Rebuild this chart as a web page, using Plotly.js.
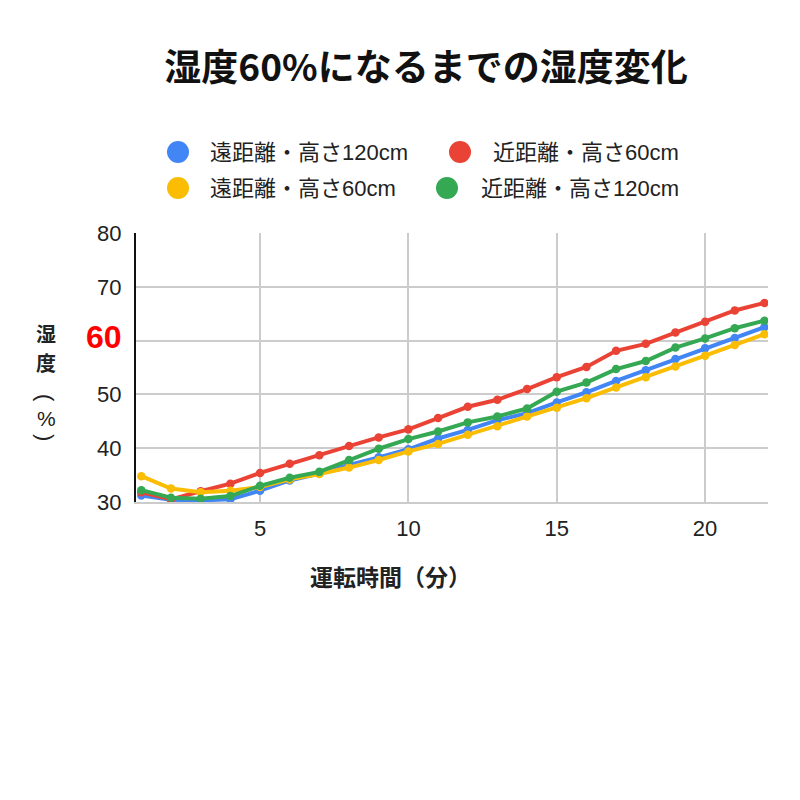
<!DOCTYPE html>
<html>
<head>
<meta charset="utf-8">
<script src="https://cdn.plot.ly/plotly-3.0.1.min.js"></script>
<style>
  html, body { margin: 0; padding: 0; background: #fff; }
  #chart { width: 800px; height: 800px; }
</style>
</head>
<body>
<div id="chart"></div>
<script>
// ---- Data ----
const minutes = [1, 2, 3, 4, 5, 6, 7, 8, 9, 10, 11, 12, 13, 14, 15, 16, 17, 18, 19, 20, 21, 22];

const seriesNames  = ['遠距離・高さ120cm', '近距離・高さ60cm', '遠距離・高さ60cm', '近距離・高さ120cm'];
const seriesColors = ['#4285F4', '#EA4335', '#FBBC04', '#34A853'];

const far120  = [31.2, 30.4, 30.3, 30.5, 32.1, 34.0, 35.3, 36.9, 38.3, 39.8, 41.8, 43.4, 45.2, 46.5, 48.5, 50.4, 52.5, 54.5, 56.6, 58.6, 60.5, 62.5];
const near60  = [31.8, 30.5, 32.0, 33.4, 35.4, 37.1, 38.7, 40.4, 42.0, 43.5, 45.6, 47.7, 49.0, 51.0, 53.2, 55.1, 58.1, 59.4, 61.5, 63.5, 65.6, 67.0];
const far60   = [34.8, 32.5, 31.8, 32.1, 32.8, 34.2, 35.2, 36.4, 37.8, 39.4, 40.8, 42.5, 44.1, 45.9, 47.5, 49.3, 51.3, 53.2, 55.2, 57.2, 59.2, 61.2];
const near120 = [32.2, 30.8, 30.6, 31.1, 33.0, 34.5, 35.6, 37.8, 39.9, 41.7, 43.1, 44.8, 45.9, 47.4, 50.5, 52.2, 54.7, 56.2, 58.7, 60.4, 62.3, 63.7];

const yTickVals = [30, 40, 50, 60, 70, 80];
const yTickText = ['30', '40', '50', '<span style="font-size:32px;color:#ff0000"><b>60</b></span>', '70', '80'];
const xTickVals = [5, 10, 15, 20];

const allSeries = [far120, near60, far60, near120];

// ---- Geometry helpers (plot area in pixels) ----
const PLOT = { left: 136, right: 768, top: 233, bottom: 502 };
const px = (x) => (x - PLOT.left) / (PLOT.right - PLOT.left);
const py = (y) => (PLOT.bottom - y) / (PLOT.bottom - PLOT.top);

const CJK  = '"Noto Sans CJK JP", "Noto Sans", sans-serif';
const SANS = '"Liberation Sans", Arial, "Noto Sans CJK JP", sans-serif';

const traces = allSeries.map((ys, i) => ({
  type: 'scatter',
  mode: 'lines+markers',
  x: minutes,
  y: ys,
  name: seriesNames[i],
  line:   { color: seriesColors[i], width: 4 },
  marker: { color: seriesColors[i], size: 8.5 },
  showlegend: false,
  hoverinfo: 'x+y+name',
}));

// ---- Hand-drawn legend: dots (shapes) + labels (annotations) ----
const legendItems = [
  { name: seriesNames[0], color: seriesColors[0], dot: 178, text: 208, anchor: 'left',  row: 152 },
  { name: seriesNames[1], color: seriesColors[1], dot: 460, text: 681, anchor: 'right', row: 152 },
  { name: seriesNames[2], color: seriesColors[2], dot: 178, text: 208, anchor: 'left',  row: 188 },
  { name: seriesNames[3], color: seriesColors[3], dot: 447, text: 681, anchor: 'right', row: 188 },
];

const shapes = legendItems.map(it => ({
  type: 'circle',
  xref: 'paper', yref: 'paper',
  xsizemode: 'pixel', ysizemode: 'pixel',
  xanchor: px(it.dot), yanchor: py(it.row),
  x0: -11, x1: 11, y0: -11, y1: 11,
  fillcolor: it.color,
  line: { width: 0 },
}));

const annotations = legendItems.map(it => ({
  xref: 'paper', yref: 'paper',
  x: px(it.text), y: py(it.row),
  xanchor: it.anchor, yanchor: 'middle',
  text: it.name,
  showarrow: false,
  font: { family: SANS, size: 22, color: '#222' },
}));

// x-axis title
annotations.push({
  xref: 'paper', yref: 'paper',
  x: px(390), y: py(576),
  xanchor: 'center', yanchor: 'middle',
  text: '<b>運転時間（分）</b>',
  showarrow: false,
  font: { family: CJK, size: 23, color: '#222' },
});

// y-axis title written top to bottom; the brackets are turned sideways
const yTitleParts = [
  { t: '<b>湿</b>', y: 333, size: 20, family: CJK,  angle: 0 },
  { t: '<b>度</b>', y: 362, size: 20, family: CJK,  angle: 0 },
  { t: '(',         y: 398, size: 22, family: SANS, angle: 90 },
  { t: '%',         y: 418, size: 21, family: SANS, angle: 0 },
  { t: ')',         y: 437, size: 22, family: SANS, angle: 90 },
];
yTitleParts.forEach(c => {
  annotations.push({
    xref: 'paper', yref: 'paper',
    x: px(46), y: py(c.y),
    xanchor: 'center', yanchor: 'middle',
    text: c.t,
    textangle: c.angle,
    showarrow: false,
    font: { family: c.family, size: c.size, color: '#222' },
  });
});

const layout = {
  width: 800,
  height: 800,
  paper_bgcolor: '#ffffff',
  plot_bgcolor:  '#ffffff',
  margin: { l: PLOT.left, r: 800 - PLOT.right, t: PLOT.top, b: 800 - PLOT.bottom, pad: 0 },
  title: {
    text: '<b>湿度60%になるまでの湿度変化</b>',
    xref: 'container', yref: 'container',
    x: 426 / 800, y: 1 - 68 / 800,
    xanchor: 'center', yanchor: 'middle',
    font: { family: CJK, size: 37, color: '#111' },
  },
  xaxis: {
    range: [0.82, 22.12],
    tickvals: xTickVals,
    ticks: '',
    ticklabelstandoff: 6,
    tickfont: { family: SANS, size: 22, color: '#222' },
    showgrid: true,
    gridcolor: '#cccccc',
    gridwidth: 2,
    zeroline: false,
    showline: true,
    linecolor: '#cccccc',
    linewidth: 2,
  },
  yaxis: {
    range: [30, 80],
    tickvals: yTickVals,
    ticktext: yTickText,
    ticks: '',
    ticklabelstandoff: 8,
    tickfont: { family: SANS, size: 22, color: '#222' },
    showgrid: true,
    gridcolor: '#cccccc',
    gridwidth: 2,
    zeroline: false,
    showline: true,
    linecolor: '#111111',
    linewidth: 2,
  },
  shapes,
  annotations,
  showlegend: false,
};

Plotly.newPlot('chart', traces, layout, { displayModeBar: false, staticPlot: true });
</script>
</body>
</html>
